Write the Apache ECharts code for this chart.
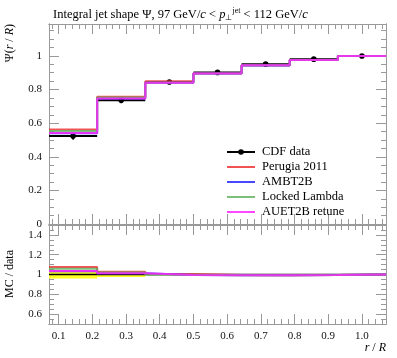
<!DOCTYPE html>
<html>
<head>
<meta charset="utf-8">
<script src="https://cdn.jsdelivr.net/npm/echarts@6/dist/echarts.min.js"></script>
<style>html,body{margin:0;padding:0;background:#fff;}#c{width:397px;height:358px;}</style>
</head>
<body>
<div id="c"></div>
<script>
// ---- data ----
const binEdges = [0.0714, 0.2143, 0.3571, 0.5, 0.6429, 0.7857, 0.9286, 1.0714];
const cdfData = [0.523, 0.737, 0.845, 0.902, 0.951, 0.981, 1.0];
const cdfErr = [0.021, 0.018, 0.006, 0.004, 0.003, 0.002, 0.001];
const perugia2011 = [0.563, 0.757, 0.850, 0.897, 0.944, 0.976, 1.0];
const ambt2b = [0.540, 0.746, 0.841, 0.895, 0.943, 0.976, 1.0];
const lockedLambda = [0.553, 0.752, 0.842, 0.896, 0.944, 0.976, 1.0];
const auet2b = [0.541, 0.746, 0.841, 0.896, 0.944, 0.976, 1.0];
const xTickLabels = [0.1, 0.2, 0.3, 0.4, 0.5, 0.6, 0.7, 0.8, 0.9, 1.0];
const mainYTicks = [0, 0.2, 0.4, 0.6, 0.8, 1];
const ratioYTicks = [0.6, 0.8, 1, 1.2, 1.4];

const mcSeries = [
  {name: 'Perugia 2011', values: perugia2011, color: 'rgba(238,40,40,0.8)'},
  {name: 'AMBT2B', values: ambt2b, color: 'rgba(40,40,255,0.85)'},
  {name: 'Locked Lambda', values: lockedLambda, color: 'rgba(90,175,90,0.8)'},
  {name: 'AUET2B retune', values: auet2b, color: 'rgba(255,40,255,0.85)'}
];

// ---- layout ----
const X0 = binEdges[0], X1 = binEdges[binEdges.length - 1];
const MAIN_YMAX = 1.19, R_MIN = 0.5, R_MAX = 1.5;
const FONT = 'Liberation Serif';
const AX = '#999';

function range(a, b, s) { const r = []; for (let v = a; v <= b + 1e-9; v += s) r.push(Math.round(v * 1000) / 1000); return r; }
const xMinor = range(0.08, 1.06, 0.02);
const mainYMinor = range(0.05, 1.15, 0.05);
const ratioYMinor = range(0.55, 1.45, 0.05);

function xAx(grid, pos, ticks, len, labels) {
  return {
    type: 'value', gridIndex: grid, position: pos, min: X0, max: X1,
    axisLine: {show: true, onZero: false, lineStyle: {color: AX, width: 1}},
    axisTick: {show: true, inside: true, length: len, customValues: ticks, lineStyle: {color: AX}},
    axisLabel: labels ? {show: true, customValues: labels, formatter: v => v.toFixed(1), fontFamily: FONT, fontSize: 11, color: '#111', margin: 7} : {show: false},
    splitLine: {show: false}
  };
}
function yAx(grid, pos, min, max, ticks, len, labels) {
  return {
    type: 'value', gridIndex: grid, position: pos, min: min, max: max,
    axisLine: {show: true, onZero: false, lineStyle: {color: AX, width: 1}},
    axisTick: {show: true, inside: true, length: len, customValues: ticks, lineStyle: {color: AX}},
    axisLabel: labels ? {show: true, customValues: labels, formatter: v => (Math.abs(v - Math.round(v)) < 1e-9 ? String(Math.round(v)) : v.toFixed(1)), fontFamily: FONT, fontSize: 11, color: '#111', margin: 7} : {show: false},
    splitLine: {show: false}
  };
}

const xAxes = [
  xAx(0, 'bottom', xTickLabels, 10), xAx(0, 'bottom', xMinor, 5),
  xAx(0, 'top', xTickLabels, 10), xAx(0, 'top', xMinor, 5),
  xAx(1, 'bottom', xTickLabels, 10, xTickLabels), xAx(1, 'bottom', xMinor, 5),
  xAx(1, 'top', xTickLabels, 10), xAx(1, 'top', xMinor, 5)
];
const yAxes = [
  yAx(0, 'left', 0, MAIN_YMAX, mainYTicks, 10, mainYTicks), yAx(0, 'left', 0, MAIN_YMAX, mainYMinor, 5),
  yAx(0, 'right', 0, MAIN_YMAX, mainYTicks, 10), yAx(0, 'right', 0, MAIN_YMAX, mainYMinor, 5),
  yAx(1, 'left', R_MIN, R_MAX, ratioYTicks, 10, ratioYTicks), yAx(1, 'left', R_MIN, R_MAX, ratioYMinor, 5),
  yAx(1, 'right', R_MIN, R_MAX, ratioYTicks, 10), yAx(1, 'right', R_MIN, R_MAX, ratioYMinor, 5)
];

function stepData(vals) {
  const d = vals.map((v, i) => [binEdges[i], v]);
  d.push([binEdges[vals.length], vals[vals.length - 1]]);
  return d;
}

const series = [];
// legend-only entry for data
series.push({name: 'CDF data', type: 'line', xAxisIndex: 0, yAxisIndex: 0, data: [], symbol: 'circle', symbolSize: 5,
  itemStyle: {color: '#000'}, lineStyle: {color: '#000', width: 1.5}});

// ratio band (data uncertainty)
series.push({
  type: 'custom', xAxisIndex: 4, yAxisIndex: 4, z: 1,
  data: cdfData.map((v, i) => [binEdges[i], binEdges[i + 1], cdfErr[i] / v]),
  renderItem: (params, api) => {
    const p1 = api.coord([api.value(0), 1 + api.value(2)]);
    const p2 = api.coord([api.value(1), 1 - api.value(2)]);
    const a = api.coord([api.value(0), 1]), b = api.coord([api.value(1), 1]);
    return {type: 'group', children: [
      {type: 'rect', shape: {x: p1[0], y: p1[1], width: p2[0] - p1[0], height: p2[1] - p1[1]}, style: {fill: '#ffff22'}},
      {type: 'line', shape: {x1: a[0], y1: a[1], x2: b[0], y2: b[1]}, style: {stroke: '#000', lineWidth: 1.5}}
    ]};
  }
});

// data points in main plot
series.push({
  type: 'custom', xAxisIndex: 0, yAxisIndex: 0, z: 2,
  data: cdfData.map((v, i) => [binEdges[i], binEdges[i + 1], v, cdfErr[i]]),
  renderItem: (params, api) => {
    const lo = api.value(0), hi = api.value(1), v = api.value(2), e = api.value(3);
    const c = (lo + hi) / 2;
    const a = api.coord([lo, v]), b = api.coord([hi, v]);
    const m = api.coord([c, v]), t = api.coord([c, v + e]), u = api.coord([c, v - e]);
    return {type: 'group', children: [
      {type: 'line', shape: {x1: a[0], y1: a[1], x2: b[0], y2: b[1]}, style: {stroke: '#000', lineWidth: 2}},
      {type: 'line', shape: {x1: t[0], y1: t[1], x2: u[0], y2: u[1]}, style: {stroke: '#000', lineWidth: 1.5}},
      {type: 'circle', shape: {cx: m[0], cy: m[1], r: 2.8}, style: {fill: '#000'}}
    ]};
  }
});

mcSeries.forEach((s, k) => {
  series.push({name: s.name, type: 'line', step: 'end', xAxisIndex: 0, yAxisIndex: 0, z: 3 + k,
    data: stepData(s.values), symbol: 'none', lineStyle: {color: s.color, width: 2}, itemStyle: {color: s.color}, animation: false});
  series.push({name: s.name, type: 'line', step: 'end', xAxisIndex: 4, yAxisIndex: 4, z: 3 + k,
    data: stepData(s.values.map((v, i) => v / cdfData[i])), symbol: 'none', lineStyle: {color: s.color, width: 2}, itemStyle: {color: s.color}, animation: false});
});

const legendData = [{name: 'CDF data'}].concat(mcSeries.map(s => ({name: s.name, itemStyle: {opacity: 0}})));

const chart = echarts.init(document.getElementById('c'), null, {renderer: 'canvas'});
chart.setOption({
  animation: false,
  backgroundColor: '#fff',
  title: {
    left: 48, top: 2,
    text: '{n|Integral jet shape Ψ, 97 GeV/}{i|c}{n| < }{i|p}{sub|⊥}{sup|jet}{n| < 112 GeV/}{i|c}',
    textStyle: {fontWeight: 'normal', rich: {
      n: {fontFamily: FONT, fontSize: 12.5, fontWeight: 'normal', color: '#000'},
      i: {fontFamily: FONT, fontSize: 12.5, fontWeight: 'normal', fontStyle: 'italic', color: '#000'},
      sub: {fontFamily: FONT, fontSize: 8, fontWeight: 'normal', color: '#000', padding: [7, 0, 0, 0]},
      sup: {fontFamily: FONT, fontSize: 8, fontWeight: 'normal', color: '#000', padding: [0, 0, 7, 0]}
    }}
  },
  grid: [
    {left: 49, top: 24, width: 337, height: 200},
    {left: 49, top: 225, width: 337, height: 99}
  ],
  xAxis: xAxes,
  yAxis: yAxes,
  legend: {
    orient: 'vertical', left: 226, top: 145.5, padding: 0, itemWidth: 28, itemHeight: 7, itemGap: 2,
    data: legendData,
    textStyle: {fontFamily: FONT, fontSize: 12.5, lineHeight: 13, color: '#000', padding: [0, 0, 0, 2]},
    selectedMode: false
  },
  graphic: [
    {type: 'text', x: 10, y: 24, rotation: Math.PI / 2,
      style: {text: '{n|Ψ(}{i|r}{n| / }{i|R}{n|)}', align: 'right', verticalAlign: 'middle',
        rich: {n: {fontFamily: FONT, fontSize: 12, fill: '#000'}, i: {fontFamily: FONT, fontSize: 12, fontStyle: 'italic', fill: '#000'}}}},
    {type: 'text', x: 10, y: 274, rotation: Math.PI / 2,
      style: {text: 'MC / data', align: 'center', verticalAlign: 'middle', fontFamily: FONT, fontSize: 12, fill: '#000'}},
    {type: 'text', x: 386, y: 348,
      style: {text: '{i|r}{n| / }{i|R}', align: 'right', verticalAlign: 'middle',
        rich: {n: {fontFamily: FONT, fontSize: 12, fill: '#000'}, i: {fontFamily: FONT, fontSize: 12, fontStyle: 'italic', fill: '#000'}}}}
  ],
  series: series
});
</script>
</body>
</html>
